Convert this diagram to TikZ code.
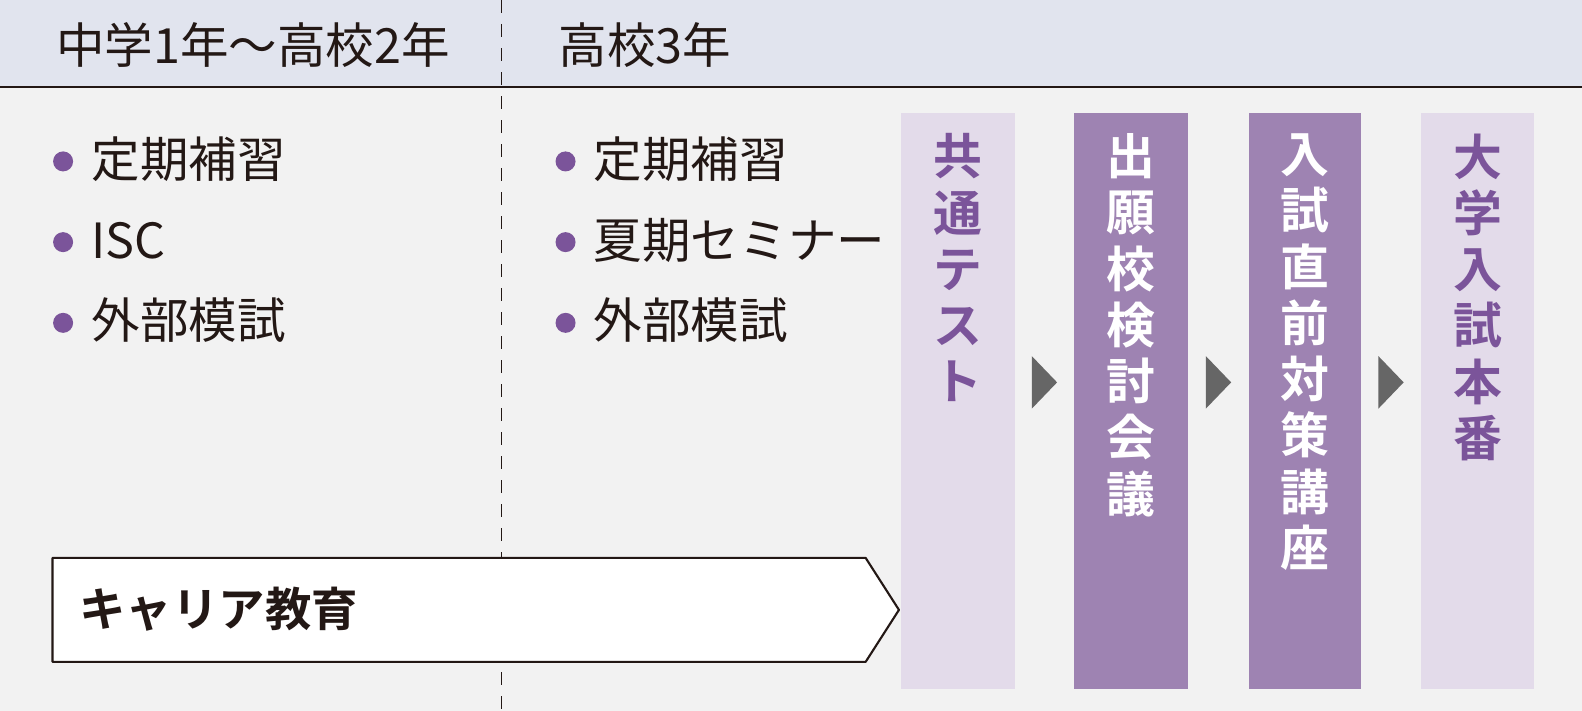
\documentclass[tikz,border=0pt]{standalone}
\usepackage{fontspec}
\setmainfont{Noto Sans CJK JP}[BoldFont={Noto Sans CJK JP Bold}]
\usetikzlibrary{positioning,calc}
\definecolor{headbg}{RGB}{225,228,238}
\definecolor{bodybg}{RGB}{242,242,242}
\definecolor{lightcol}{RGB}{227,219,234}
\definecolor{darkcol}{RGB}{158,131,178}
\definecolor{purpletext}{RGB}{123,84,154}
\definecolor{arrowgray}{RGB}{102,102,102}
\definecolor{inktext}{RGB}{35,24,21}
\tikzset{
  item/.style={anchor=west,text height=0.4cm,text depth=0.08cm},
  dot/.style={circle,fill=purpletext,minimum size=0.2cm},
  colbox/.style={minimum width=1.14cm,minimum height=5.76cm,anchor=north west},
  vlabel/.style={font=\fontsize{13.9pt}{16pt}\selectfont\bfseries,align=center},
}
\begin{document}
\begin{tikzpicture}[x=0.01009cm,y=-0.01009cm,line join=round,
  font=\fontsize{13.8pt}{16pt}\selectfont,
  every node/.style={inner sep=0pt,text=inktext}]
	\useasboundingbox (0,0) rectangle (1568,704.7);
	\fill[bodybg] (0,0) rectangle (1568,704.7);
	\fill[headbg] (0,0) rectangle (1568,86);
	\draw[inktext,line width=0.4pt,dash pattern=on 0.13cm off 0.11cm] (497,0) -- (497,704.7);
	\draw[inktext,line width=0.6pt] (0,86) -- (1568,86);
	% header
	\node[anchor=west] (early) at (55,45) {中学1年〜高校2年};
	\node[anchor=west] (late) at (553,45) {高校3年};
	% bullet lists
	\foreach \t [count=\i] in {定期補習,ISC,外部模試} {
		\node[item] (l\i) at (90,{160+80*(\i-1)}) {\t};
		\node[dot,left=0.17cm of l\i] {};
	}
	\foreach \t [count=\i] in {定期補習,夏期セミナー,外部模試} {
		\node[item] (r\i) at (588,{160+80*(\i-1)}) {\t};
		\node[dot,left=0.17cm of r\i] {};
	}
	% stages
	\node[colbox,fill=lightcol] (test) at (892,111) {};
	\node[colbox,fill=darkcol] (review) at (1064,111) {};
	\node[colbox,fill=darkcol,minimum width=1.12cm] (prep) at (1237,111) {};
	\node[colbox,fill=lightcol,minimum width=1.13cm] (exam) at (1408,111) {};
	\node[vlabel,text=purpletext,below=0.21cm of test.north] {共\\通\\テ\\ス\\ト};
	\node[vlabel,text=white,below=0.21cm of review.north] {出\\願\\校\\検\\討\\会\\議};
	\node[vlabel,text=white,below=0.21cm of prep.north] {入\\試\\直\\前\\対\\策\\講\\座};
	\node[vlabel,text=purpletext,below=0.21cm of exam.north] {大\\学\\入\\試\\本\\番};
	\foreach \a/\b in {test/review,review/prep,prep/exam} {
		\path (\a.north east) -- (\b.north west) coordinate[pos=0.5] (m);
		\fill[arrowgray] ($(m)+(-12.5,242)$) -- ($(m)+(12.5,268)$) -- ($(m)+(-12.5,294)$) -- cycle;
	}
	% career
	\draw[inktext,fill=white,line width=0.6pt] (52,553) -- (858,553) -- (891,604.5) -- (858,656) -- (52,656) -- cycle;
	\node[anchor=west,font=\fontsize{13.2pt}{16pt}\selectfont\bfseries] (career) at (78,604) {キャリア教育};
\end{tikzpicture}
\end{document}
